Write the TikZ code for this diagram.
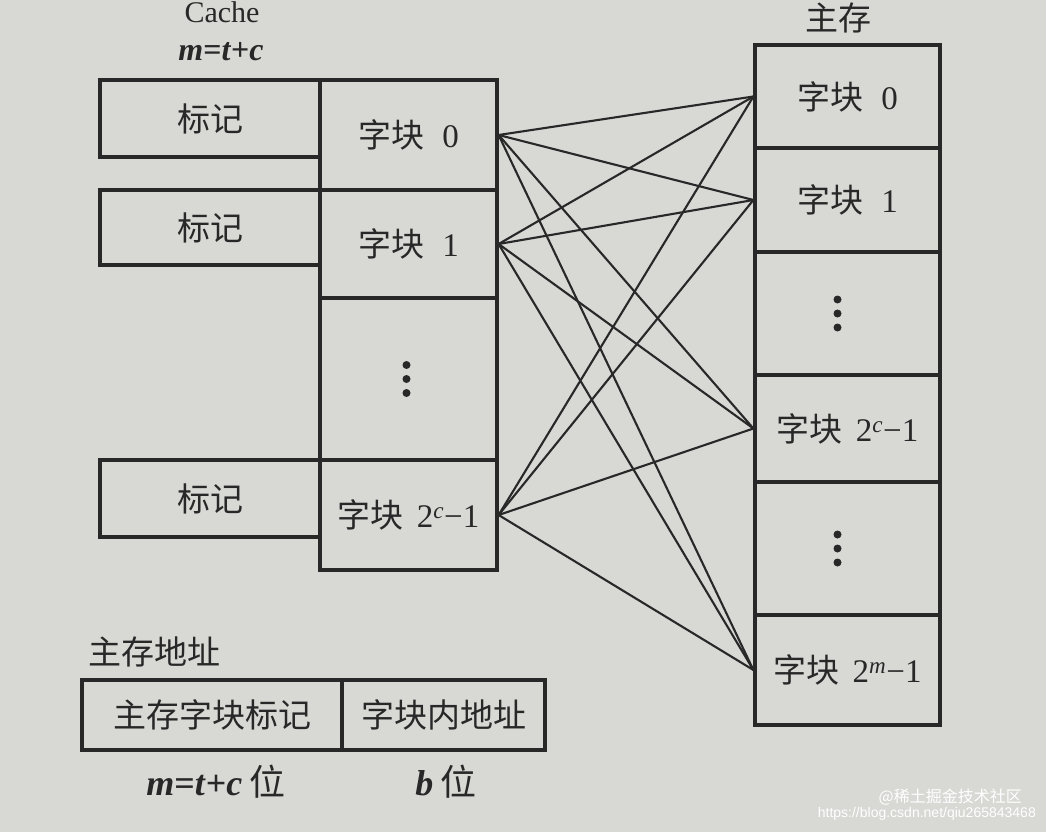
\documentclass[tikz,border=0pt]{standalone}
\usepackage{fontspec}
\setmainfont{Liberation Serif}
\newfontfamily\cjk{Noto Sans CJK SC}
\newfontfamily\wmfont{Liberation Sans}
\definecolor{paper}{RGB}{216,217,213}
\definecolor{ink}{RGB}{40,40,40}
\newcommand\zk{{\cjk 字块}\hspace{0.55em}}
\newcommand\mylbl[1]{{\cjk 字块}\hspace{0.4em}2\textsuperscript{\textit{#1}}−1}
\begin{document}
\begin{tikzpicture}[x=1pt,y=-1pt,
  cell/.style={draw=ink, line width=3.2pt, inner sep=0pt, text=ink,
    font=\fontsize{33}{38}\selectfont},
  tagcell/.style={cell, minimum width=220pt},
  cachecell/.style={cell, minimum width=177pt},
  memcell/.style={cell, minimum width=185pt},
  link/.style={draw=ink, line width=2.1pt},
  dot/.style={fill=ink},
  lbl/.style={text=ink, inner sep=0pt, font=\fontsize{33}{38}\selectfont}]
\fill[paper] (0,0) rectangle (1046,832);
\useasboundingbox (0,0) rectangle (1046,832);

% cache titles
\node[lbl, anchor=base, font=\fontsize{30}{34}\selectfont] (cachet) at (222,23) {Cache};
\node[lbl, anchor=base, font=\fontsize{32}{36}\selectfont\bfseries] (mtc) at (221,61) {\textit{m}=\textit{t}+\textit{c}};

% tags
\node[tagcell, minimum height=77pt] (tag0) at (210,118.5) {{\cjk 标记}};
\node[tagcell, minimum height=75pt] (tag1) at (210,227.5) {{\cjk 标记}};
\node[tagcell, minimum height=77pt] (tag2) at (210,498.5) {{\cjk 标记}};

% cache blocks
\node[cachecell, minimum height=110pt] (c0) at (408.5,135) {\zk 0};
\node[cachecell, minimum height=108pt] (c1) at (408.5,244) {\zk 1};
\node[cachecell, minimum height=162pt] (cd) at (408.5,379) {};
\node[cachecell, minimum height=110pt] (cc) at (408.5,515) {\mylbl{c}};

% main memory
\node[lbl] (mt) at (838,18) {{\cjk 主存}};
\node[memcell, minimum height=103pt] (m0) at (847.5,96.5) {\zk 0};
\node[memcell, minimum height=104pt] (m1) at (847.5,200) {\zk 1};
\node[memcell, minimum height=123pt] (md1) at (847.5,313.5) {};
\node[memcell, minimum height=107pt] (mc) at (847.5,428.5) {\mylbl{c}};
\node[memcell, minimum height=133pt] (md2) at (847.5,548.5) {};
\node[memcell, minimum height=110pt] (mm) at (847.5,670) {\mylbl{m}};

% vertical dots
\foreach \n/\dx in {cd/-2,md1/-10,md2/-10}{
  \foreach \dy in {-14,0,14}{
    \fill[dot] ([xshift=\dx pt,yshift=\dy pt]\n.center) circle (4pt);
  }
}

% links
\foreach \c in {c0,c1,cc}{
  \foreach \m in {m0,m1,mc,mm}{
    \draw[link] (\c.east) -- (\m.west);
  }
}

% address
\node[lbl, anchor=west] (addrt) at (88,652) {{\cjk 主存地址}};
\node[cell, minimum width=260pt, minimum height=70pt] (a1) at (212,715) {{\cjk 主存字块标记}};
\node[cell, minimum width=203pt, minimum height=70pt] (a2) at (443.5,715) {{\cjk 字块内地址}};
\node[lbl, anchor=base, font=\fontsize{36}{40}\selectfont\bfseries] (b1) at (216,795) {\textit{m}=\textit{t}+\textit{c}\hspace{0.2em}{\cjk\mdseries 位}};
\node[lbl, anchor=base, font=\fontsize{36}{40}\selectfont\bfseries] (b2) at (446,795) {\textit{b}\hspace{0.2em}{\cjk\mdseries 位}};

% watermark
\node[text=white, inner sep=0pt, anchor=east, font=\fontsize{16}{18}\selectfont\cjk] (wm1) at (1022,797) {@稀土掘金技术社区};
\node[text=white, inner sep=0pt, anchor=east, font=\fontsize{14}{16}\selectfont\wmfont] (wm2) at (1036,814) {https://blog.csdn.net/qiu265843468};
\end{tikzpicture}
\end{document}
